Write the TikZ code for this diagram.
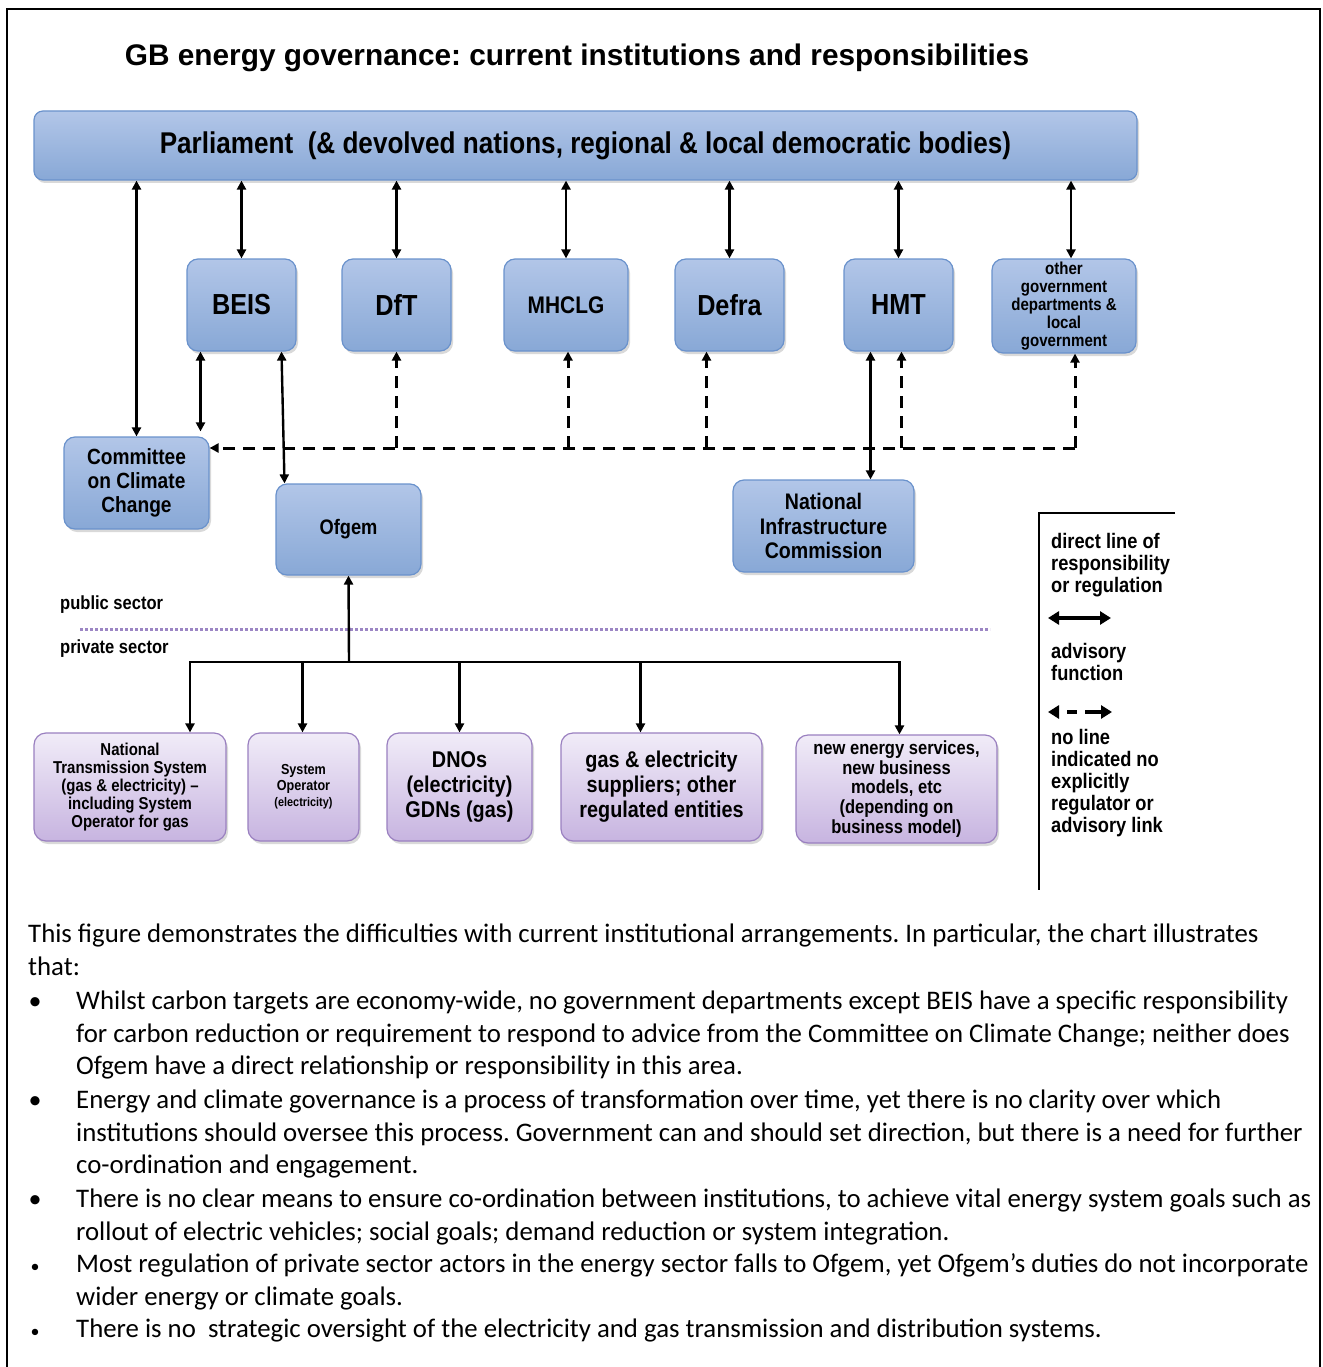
\documentclass[tikz,border=0pt]{standalone}
\usepackage{fontspec}
\setmainfont{Carlito}
\newfontfamily\diagfont[FakeStretch=0.87]{Liberation Sans}
\newfontfamily\titlefont{Liberation Sans}
\usetikzlibrary{arrows.meta,shadows}
\frenchspacing
\definecolor{govtop}{HTML}{B2C6E8}
\definecolor{govbot}{HTML}{88A8D6}
\definecolor{govline}{HTML}{6A92CC}
\definecolor{pvttop}{HTML}{F1ECF8}
\definecolor{pvtbot}{HTML}{C7B4E0}
\definecolor{pvtline}{HTML}{9A80C0}
\definecolor{sectorline}{HTML}{9C86C4}

\tikzset{
  boxshadow/.style={drop shadow={opacity=0.3, shadow xshift=2pt, shadow yshift=-3pt}},
  govbox/.style={draw=govline, line width=1.2pt, rounded corners=11pt,
    top color=govtop, bottom color=govbot, boxshadow, align=center, inner sep=0pt},
  pvtbox/.style={draw=pvtline, line width=1.2pt, rounded corners=12pt,
    top color=pvttop, bottom color=pvtbot, boxshadow, align=center, inner sep=0pt},
  lbl/.style={font={\diagfont\bfseries\fontsize{#1pt}{1.1\dimexpr#1pt\relax}\selectfont}},
  tip/.tip={Triangle[length=9pt, width=9pt]},
  keytip/.tip={Triangle[length=11pt, width=13pt]},
  resp/.style={line width=2.4pt, {tip}-{tip}},
  reg/.style={line width=2.4pt, -{tip}},
  adv/.style={line width=3pt, dash pattern=on 12pt off 8pt, -{tip}},
  bodytext/.style={anchor=base west, inner sep=0pt, font=\fontsize{26.8}{33}\selectfont},
  bullet/.style={anchor=base, inner sep=0pt, font=\fontsize{26}{33}\selectfont},
  keytext/.style={anchor=north west, inner sep=0pt, align=left,
    font={\diagfont\bfseries\fontsize{21}{22}\selectfont}}
}

\begin{document}
\begin{tikzpicture}[x=1pt, y=-1pt]

  \useasboundingbox (0,0) rectangle (1322,1367);

  % === Frame and title ===
  \draw[line width=1.6pt] (7,1367) |- (1320,9) -- (1320,1367);
  \node[font={\titlefont\bfseries\fontsize{29.8}{32}\selectfont}] (title) at (577,58)
    {GB energy governance: current institutions and responsibilities};

  % Parliament
  \node[govbox, rounded corners=9pt, minimum width=1103, minimum height=69, lbl=30] (parl) at (585.5,145.5)
    {Parliament\ \ (\&\ devolved\ nations,\ regional\ \&\ local\ democratic\ bodies)};

  % Government departments
  \node[govbox, minimum width=109, minimum height=92, lbl=29] (beis)  at (241.5,305) {BEIS};
  \node[govbox, minimum width=109, minimum height=92, lbl=29] (dft)   at (396.5,305) {DfT};
  \node[govbox, minimum width=124, minimum height=92, lbl=24] (mhclg) at (566,305)   {MHCLG};
  \node[govbox, minimum width=109, minimum height=92, lbl=29] (defra) at (729.5,305) {Defra};
  \node[govbox, minimum width=109, minimum height=92, lbl=29] (hmt)   at (898.5,305) {HMT};
  \node[govbox, minimum width=144, minimum height=94,
    font={\diagfont\bfseries\fontsize{17.3}{17.8}\selectfont}] (othergov) at (1064,306)
    {other\\government\\departments \&\\local\\government};

  % Arm's length bodies
  \node[govbox, minimum width=145, minimum height=92, lbl=22] (ccc)   at (136.5,483) {Committee\\on Climate\\Change};
  \node[govbox, minimum width=145, minimum height=91, lbl=21] (ofgem) at (348.5,529.5) {Ofgem};
  \node[govbox, minimum width=181, minimum height=92, lbl=22.5] (nic) at (823.5,526) {National\\Infrastructure\\Commission};

  % Private sector bodies
  \node[pvtbox, minimum width=192, minimum height=108,
    font={\diagfont\bfseries\fontsize{17.2}{17.8}\selectfont}] (nts) at (130,787)
    {National\\Transmission System\\(gas \& electricity) –\\including System\\Operator for gas};
  \node[pvtbox, minimum width=111, minimum height=108,
    font={\diagfont\bfseries\fontsize{14.5}{16}\selectfont}] (sysop) at (303.5,787)
    {System\\Operator\\{\fontsize{12.5}{14}\selectfont(electricity)}};
  \node[pvtbox, minimum width=145, minimum height=108, lbl=22.8] (dnos)   at (459.5,787) {DNOs\\(electricity)\\GDNs (gas)};
  \node[pvtbox, minimum width=201, minimum height=108, lbl=22.8] (supply) at (661.5,787) {gas \& electricity\\suppliers; other\\regulated entities};
  \node[pvtbox, minimum width=201, minimum height=108,
    font={\diagfont\bfseries\fontsize{19}{19.8}\selectfont}] (newsrv) at (896.5,789)
    {new energy services,\\new business\\models, etc\\(depending on\\business model)};

  % Lines of responsibility from parliament
  \foreach \n in {beis,dft,mhclg,defra,hmt}
    \draw[resp] (parl.south -| \n.north) -- (\n.north);
  \draw[resp] ([xshift=7pt]othergov.north |- parl.south) -- ([xshift=7pt]othergov.north);
  \draw[resp] (parl.south -| ccc.north) -- (ccc.north);
  \draw[resp] ([xshift=-41pt]beis.south) -- ([xshift=-41pt, yshift=5pt]beis.south |- ccc.north);
  \draw[resp] ([xshift=40pt]beis.south) -- ([xshift=-64pt]ofgem.north);
  \draw[resp] ([xshift=-28pt]hmt.south) -- ([xshift=-28pt]hmt.south |- nic.north);

  % Advisory function (dashed)
  \coordinate (advR) at (1075,448);
  \draw[adv] (advR) -- (ccc.east |- advR);
  \draw[adv] (advR) -- ([xshift=11pt]othergov.south);
  \foreach \n/\dx in {dft/0, mhclg/2, defra/-23, hmt/3}
    \draw[adv] ([xshift=\dx pt]\n.south |- advR) -- ([xshift=\dx pt]\n.south);

  % Public / private divide
  \node[anchor=west, inner sep=0pt, lbl=19] (pubsec) at (60,605) {public sector};
  \node[anchor=west, inner sep=0pt, lbl=19] (pvtsec) at (60,649) {private sector};
  \draw[sectorline, line width=3pt, dash pattern=on 2.5pt off 2.5pt] (80,629) -- (990,629);

  % Regulation by Ofgem
  \coordinate (hub) at (349,662);
  \draw[reg] (hub) -- (ofgem.south);
  \draw[line width=2.4pt, line cap=rect] ([xshift=60pt]nts.north |- hub) -- ([xshift=3pt]newsrv.north |- hub);
  \foreach \n/\dx in {nts/60, sysop/-1, dnos/0, supply/-21, newsrv/3}
    \draw[reg] ([xshift=\dx pt]\n.north |- hub) -- ([xshift=\dx pt]\n.north);

  % === Key ===
  \draw[line width=1.2pt] (1175,513) -| (1039,890);
  \node[keytext] (key1) at (1051,533) {direct line of\\responsibility\\or regulation};
  \coordinate (keyA) at (1048,618);
  \coordinate (keyB) at (1111,618);
  \draw[line width=3.5pt, {keytip}-{keytip}] (keyA) -- (keyB);
  \node[keytext] (key2) at (1051,643) {advisory\\function};
  \coordinate (keyC) at (1048,712);
  \coordinate (keyD) at (1112,712);
  \draw[line width=3.5pt, dash pattern=on 0pt off 9pt on 10pt off 8pt on 40pt, {keytip}-{keytip}] (keyC) -- (keyD);
  \node[keytext] (key3) at (1051,729) {no line\\indicated no\\explicitly\\regulator or\\advisory link};

  % === Commentary ===
  \node[bodytext] (txt1) at (28,942) {This figure demonstrates the difficulties with current institutional arrangements. In particular, the chart illustrates};
  \node[bodytext] (txt2) at (28,975) {that:};
  \node[bullet] (bul1) at (35,1009) {\textbullet};
  \node[bodytext] (txt3) at (76,1009) {Whilst carbon targets are economy-wide, no government departments except BEIS have a specific responsibility};
  \node[bodytext] (txt4) at (76,1042) {for carbon reduction or requirement to respond to advice from the Committee on Climate Change; neither does};
  \node[bodytext] (txt5) at (76,1074) {Ofgem have a direct relationship or responsibility in this area.};
  \node[bullet] (bul2) at (35,1108) {\textbullet};
  \node[bodytext] (txt6) at (76,1108) {Energy and climate governance is a process of transformation over time, yet there is no clarity over which};
  \node[bodytext] (txt7) at (76,1141) {institutions should oversee this process. Government can and should set direction, but there is a need for further};
  \node[bodytext] (txt8) at (76,1173) {co-ordination and engagement.};
  \node[bullet] (bul3) at (35,1207) {\textbullet};
  \node[bodytext] (txt9) at (76,1207) {There is no clear means to ensure co-ordination between institutions, to achieve vital energy system goals such as};
  \node[bodytext] (txt10) at (76,1240) {rollout of electric vehicles; social goals; demand reduction or system integration.};
  \node[bullet, font=\fontsize{18}{20}\selectfont] (bul4) at (35,1272) {\textbullet};
  \node[bodytext] (txt11) at (76,1272) {Most regulation of private sector actors in the energy sector falls to Ofgem, yet Ofgem’s duties do not incorporate};
  \node[bodytext] (txt12) at (76,1305) {wider energy or climate goals.};
  \node[bullet, font=\fontsize{18}{20}\selectfont] (bul5) at (35,1337) {\textbullet};
  \node[bodytext] (txt13) at (76,1337) {There is no\ \ strategic oversight of the electricity and gas transmission and distribution systems.};

\end{tikzpicture}
\end{document}
